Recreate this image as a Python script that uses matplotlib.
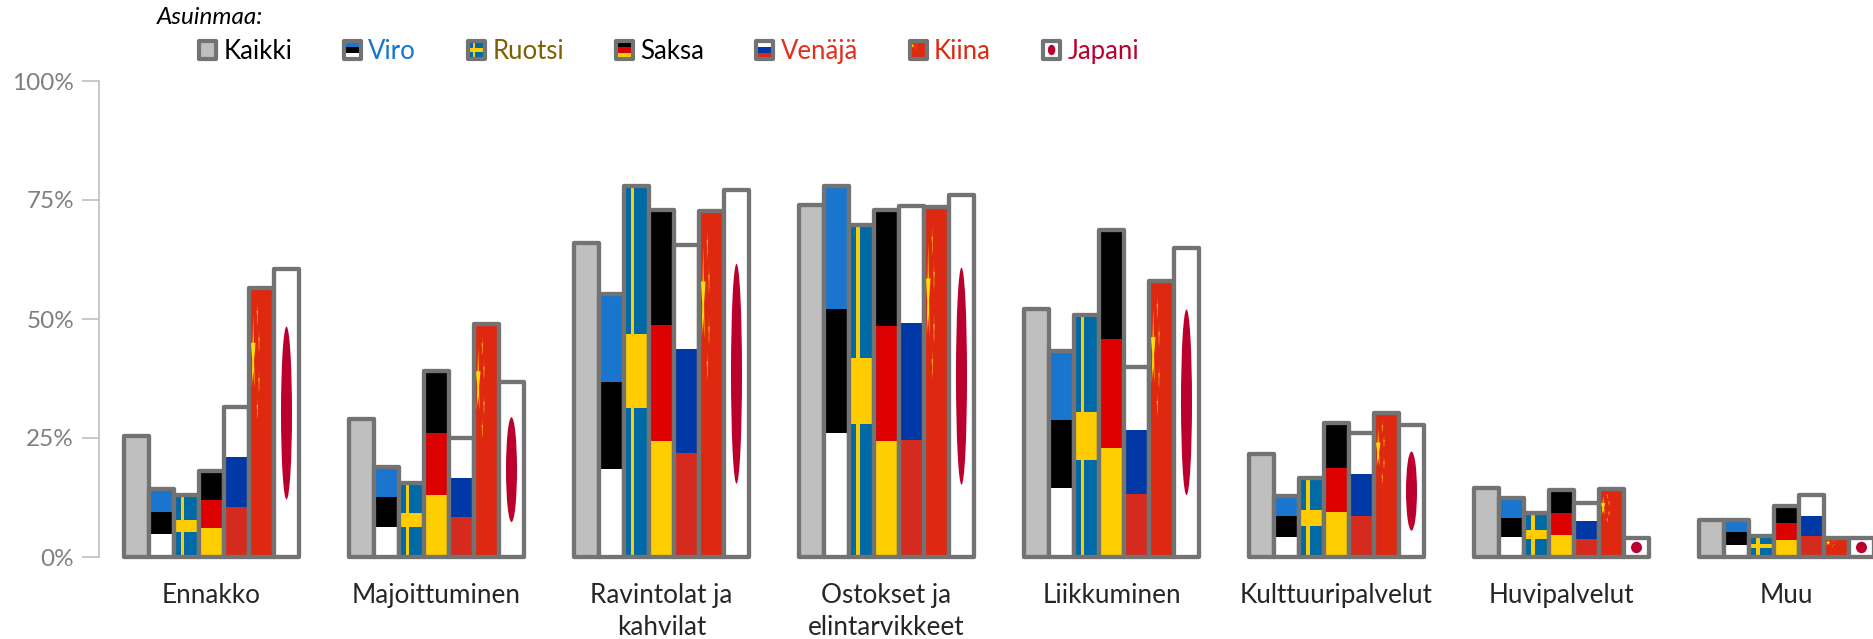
import numpy as np
from matplotlib import pyplot as plt
from matplotlib.legend_handler import HandlerBase
from matplotlib.patches import Ellipse, Patch, Polygon, Rectangle
from matplotlib.transforms import Affine2D

plt.rcParams['font.family'] = ['Lato', 'DejaVu Sans']

categories = ["Ennakko", "Majoittuminen", "Ravintolat ja\nkahvilat", "Ostokset ja\nelintarvikkeet",
              "Liikkuminen", "Kulttuuripalvelut", "Huvipalvelut", "Muu"]
countries = ["Kaikki", "Viro", "Ruotsi", "Saksa", "Venäjä", "Kiina", "Japani"]

kaikki = [25.5, 29.0, 66.0, 74.0, 52.0, 21.7, 14.5, 7.8]
viro = [14.3, 19.0, 55.3, 78.0, 43.3, 12.8, 12.3, 7.8]
ruotsi = [13.0, 15.5, 78.0, 69.7, 50.8, 16.5, 9.3, 4.5]
saksa = [18.0, 39.0, 73.0, 72.8, 68.7, 28.2, 14.0, 10.8]
venaja = [31.5, 25.0, 65.5, 73.8, 40.0, 26.0, 11.3, 13.0]
kiina = [56.5, 49.0, 72.7, 73.5, 58.0, 30.2, 14.2, 4.0]
japani = [60.5, 36.7, 77.0, 76.0, 65.0, 27.7, 4.0, 4.0]
series = [kaikki, viro, ruotsi, saksa, venaja, kiina, japani]

y_ticks = [0, 25, 50, 75, 100]
y_labels = ["0%", "25%", "50%", "75%", "100%"]
text_colors = ["black", "#1874CD", "#7F6000", "black", "#E0301E", "#DE2910", "#BC002D"]

EDGE = "#737373"


def star(cx, cy, rx, ry, color):
    # viisisakarainen tähti yksikköneliössä
    angles = np.pi / 2 + np.arange(10) * np.pi / 5
    radius = np.where(np.arange(10) % 2 == 0, 1.0, 0.38)
    points = np.column_stack([cx + rx * radius * np.cos(angles), cy + ry * radius * np.sin(angles)])
    return Polygon(points, closed=True, facecolor=color, edgecolor="none")


def stripes(colors):
    n = len(colors)
    return [Rectangle((0, 1 - (i + 1) / n), 1, 1 / n, facecolor=c, edgecolor="none")
            for i, c in enumerate(colors)]


# Liput yksikköneliössä (0..1, 0..1)
def flag_parts(name):
    if name == "Kaikki":
        return [Rectangle((0, 0), 1, 1, facecolor="#BFBFBF", edgecolor="none")]
    if name == "Viro":
        return stripes(["#1A75CF", "black", "white"])
    if name == "Saksa":
        return stripes(["black", "#DD0000", "#FFCE00"])
    if name == "Venäjä":
        return stripes(["white", "#0039A6", "#D52B1E"])
    if name == "Ruotsi":
        return [Rectangle((0, 0), 1, 1, facecolor="#006AA7", edgecolor="none"),
                Rectangle((0.27, 0), 0.15, 1, facecolor="#FECC00", edgecolor="none"),
                Rectangle((0, 0.40), 1, 0.20, facecolor="#FECC00", edgecolor="none")]
    if name == "Kiina":
        parts = [Rectangle((0, 0), 1, 1, facecolor="#DE2910", edgecolor="none"),
                 star(5 / 30, 15 / 20, 3 / 30, 3 / 20, "#FFDE00")]
        for cx, cy in [(10 / 30, 18 / 20), (12 / 30, 16 / 20), (12 / 30, 13 / 20), (10 / 30, 11 / 20)]:
            parts.append(star(cx, cy, 1 / 30, 1 / 20, "#F7A81B"))
        return parts
    return [Rectangle((0, 0), 1, 1, facecolor="white", edgecolor="none"),
            Ellipse((0.5, 0.5), 0.44, 0.6, facecolor="#BC002D", edgecolor="none")]


class FlagHandler(HandlerBase):
    def __init__(self, name):
        super().__init__()
        self.name = name

    def create_artists(self, legend, orig_handle, xdescent, ydescent, width, height, fontsize, trans):
        tr = Affine2D().scale(width, height).translate(-xdescent, -ydescent) + trans
        artists = flag_parts(self.name)
        for p in artists:
            p.set_transform(tr)
        artists.append(Rectangle((-xdescent, -ydescent), width, height, facecolor="none",
                                 edgecolor=EDGE, linewidth=3.0, joinstyle="round", transform=trans))
        return artists


fig = plt.figure(figsize=(18.74, 6.39), dpi=100)
ax = fig.add_axes([99 / 1874, 1 - 557 / 639, 1 - 99 / 1874, (557 - 81) / 639])

bar_width = 1 / 9
x = np.arange(len(categories))

for i, (name, values) in enumerate(zip(countries, series)):
    pos = x + (i - 3) * bar_width
    bars = ax.bar(pos, values, bar_width, facecolor="none", edgecolor=EDGE, linewidth=3.1,
                  joinstyle="round", zorder=3 + 2 * i + 1, clip_on=False)
    for b in bars:
        tr = Affine2D().scale(b.get_width(), b.get_height()).translate(b.get_x(), 0) + ax.transData
        for p in flag_parts(name):
            p.set_transform(tr)
            p.set_zorder(3 + 2 * i)
            ax.add_patch(p)

ax.set_xlim(-0.5, -0.5 + 1775 / 225)
ax.set_ylim(0, 100)
ax.set_xticks(x)
ax.set_xticklabels(categories, fontsize=18.8, color="#262626", linespacing=1.32)
ax.set_yticks(y_ticks)
ax.set_yticklabels(y_labels, fontsize=17.5, color="#7F7F7F")
ax.tick_params(axis="x", length=0, pad=19)
ax.tick_params(axis="y", length=12, width=1.2, color="#BFBFBF", pad=6)
for s in ["top", "right", "bottom"]:
    ax.spines[s].set_visible(False)
ax.spines["left"].set_color("#BFBFBF")
ax.spines["left"].set_linewidth(1.2)

handles = [Patch(label=n) for n in countries]
leg = ax.legend(handles, countries, handler_map={h: FlagHandler(n) for h, n in zip(handles, countries)},
                ncols=7, frameon=False, fontsize=18.5, handlelength=0.66, handleheight=0.66,
                handletextpad=0.28, columnspacing=2.03, borderpad=0, borderaxespad=0,
                loc="center left", bbox_to_anchor=(100 / 1775, 1.062))
for t, c in zip(leg.get_texts(), text_colors):
    t.set_color(c)

fig.text(157 / 1874, 1 - 18 / 639, "Asuinmaa:", fontsize=17.5, style="italic", color="black", va="center")

plt.savefig("out.png", dpi=100)
